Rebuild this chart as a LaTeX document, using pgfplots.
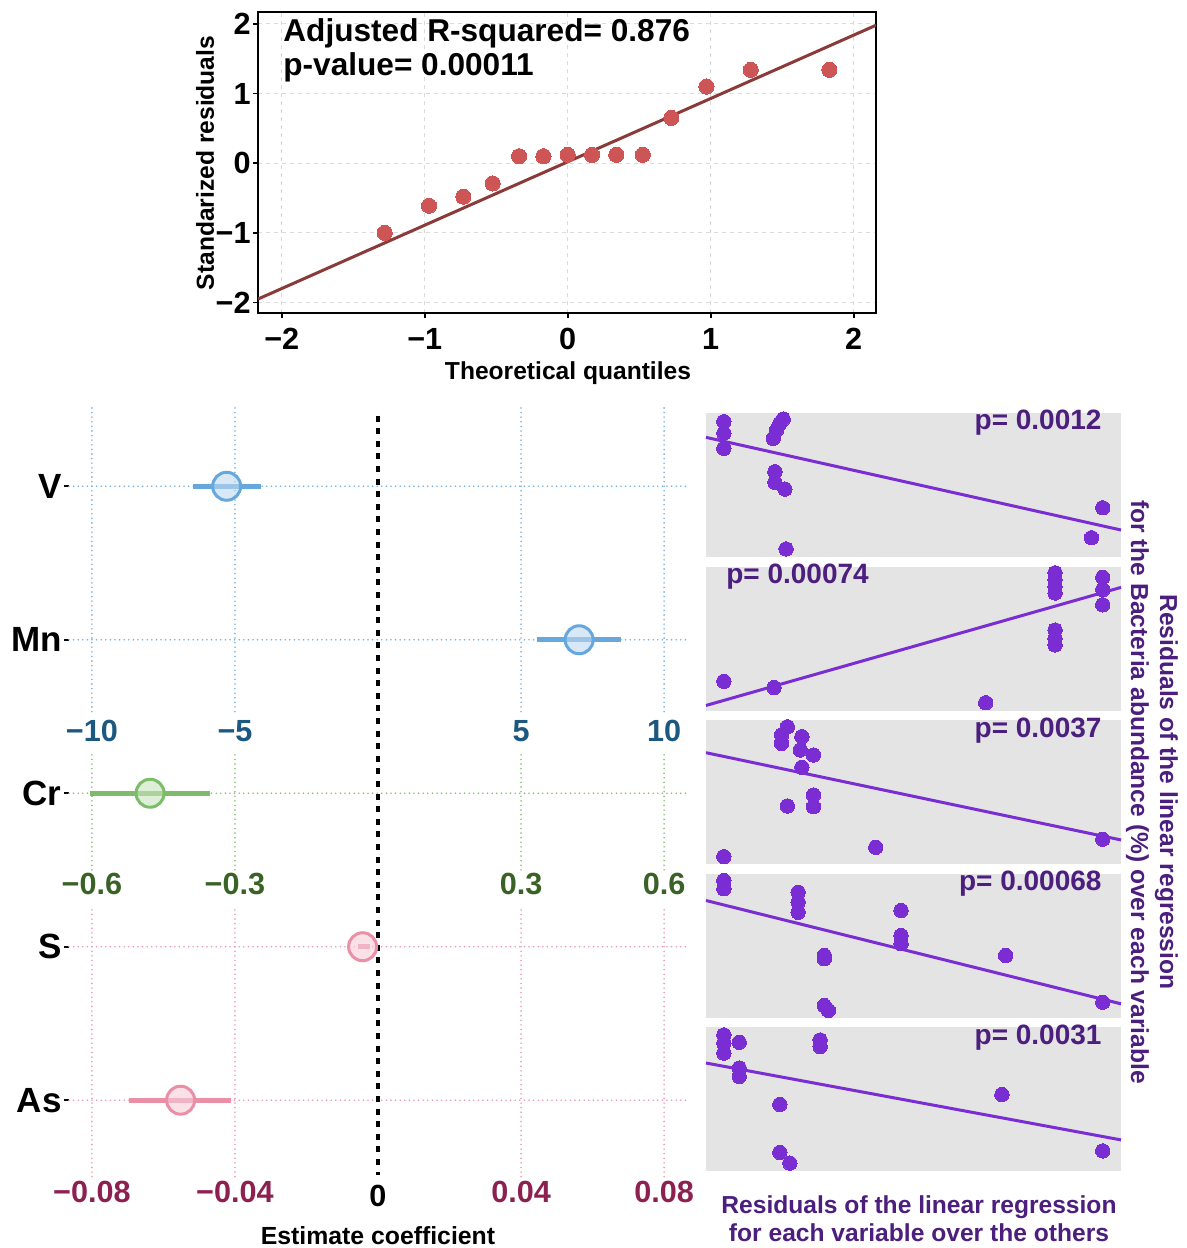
\documentclass[border=0pt]{standalone}
\usepackage{fontspec}
\setmainfont{Liberation Sans}
\usepackage{pgfplots}
\usepackage{pgfplotstable}
\pgfplotsset{compat=1.18}

\definecolor{qqpt}{RGB}{205,85,85}
\definecolor{qqline}{RGB}{139,58,58}
\definecolor{gridgray}{RGB}{218,218,218}
\definecolor{bluestroke}{RGB}{102,167,222}
\definecolor{bluefill}{RGB}{190,217,240}
\definecolor{bluedot}{RGB}{120,178,222}
\definecolor{bluetxt}{RGB}{28,88,128}
\definecolor{greenstroke}{RGB}{125,188,105}
\definecolor{greenfill}{RGB}{200,228,190}
\definecolor{greendot}{RGB}{135,192,115}
\definecolor{greentxt}{RGB}{58,98,38}
\definecolor{pinkstroke}{RGB}{234,143,166}
\definecolor{pinkfill}{RGB}{246,205,216}
\definecolor{pinkdot}{RGB}{236,155,176}
\definecolor{pinktxt}{RGB}{140,32,80}
\definecolor{purpt}{RGB}{121,45,210}
\definecolor{purtxt}{RGB}{76,30,126}
\definecolor{panelbg}{RGB}{228,228,228}

\newcommand{\fs}[2]{\fontsize{#1}{#2}\selectfont\bfseries}

% QQ plot of the standardized residuals
\pgfplotstableread{
x y
-1.28 -1.00
-0.97 -0.61
-0.73 -0.48
-0.525 -0.29
-0.34 0.10
-0.17 0.10
0.00 0.12
0.17 0.12
0.34 0.12
0.525 0.12
0.725 0.65
0.97 1.10
1.28 1.34
1.83 1.34
}\qqdata

% coefficient estimates (row 5 = V ... row 1 = As)
\pgfplotstableread{
row est lo hi
5 -5.29 -6.47 -4.08
4 7.03 5.56 8.48
}\coefblue
\pgfplotstableread{
row est lo hi
3 -0.478 -0.605 -0.353
}\coefgreen
\pgfplotstableread{
row est lo hi
2 -0.0043 -0.0056 -0.0022
1 -0.0552 -0.0695 -0.041
}\coefpink

% partial residual panels (normalised to the panel)
\pgfplotstableread{
x y
0.043 0.940
0.043 0.860
0.043 0.755
0.186 0.958
0.178 0.928
0.170 0.882
0.162 0.824
0.166 0.592
0.166 0.519
0.190 0.472
0.193 0.056
0.956 0.342
0.929 0.134
}\resV
\pgfplotstableread{
x y
0.043 0.203
0.164 0.159
0.674 0.054
0.841 0.956
0.841 0.909
0.841 0.862
0.841 0.816
0.841 0.559
0.841 0.501
0.841 0.455
0.956 0.925
0.956 0.839
0.956 0.734
}\resMn
\pgfplotstableread{
x y
0.196 0.953
0.182 0.896
0.182 0.838
0.231 0.884
0.227 0.792
0.259 0.757
0.231 0.672
0.259 0.479
0.259 0.398
0.196 0.403
0.409 0.116
0.043 0.051
0.956 0.172
}\resCr
\pgfplotstableread{
x y
0.043 0.951
0.043 0.894
0.222 0.870
0.222 0.801
0.222 0.731
0.470 0.743
0.470 0.569
0.470 0.512
0.285 0.431
0.285 0.408
0.722 0.431
0.285 0.083
0.295 0.049
0.956 0.106
}\resS
\pgfplotstableread{
x y
0.043 0.945
0.043 0.888
0.043 0.819
0.080 0.894
0.080 0.715
0.080 0.657
0.275 0.910
0.275 0.864
0.178 0.462
0.178 0.129
0.202 0.055
0.713 0.531
0.956 0.140
}\resAs

\pgfplotsset{
  panel/.style={scale only axis, width=207.5pt, height=72pt, anchor=north west,
    xmin=0, xmax=1, ymin=0, ymax=1, axis line style={draw=none}, ticks=none,
    axis background/.style={fill=panelbg}, clip=false},
  respts/.style={only marks, mark=*, mark size=3.6pt,
    mark options={draw=purpt, fill=purpt, line width=0pt}},
  resline/.style={purpt, line width=1.5pt},
}
\tikzset{
  ptext/.style={text=purtxt, font=\fs{14}{16}, inner sep=0pt},
  guide/.style={line width=0.9pt, line cap=round, dash pattern=on 0pt off 2.3pt},
}

\begin{document}
\begin{tikzpicture}
\path[use as bounding box] (0,0) rectangle (593.5pt,-624pt);

% ---------- QQ plot ----------
\begin{axis}[
  scale only axis, width=309pt, height=150.5pt,
  at={(129pt,-6pt)}, anchor=north west,
  xmin=-2.166, xmax=2.156, ymin=-2.15, ymax=2.17,
  xtick={-2,-1,0,1,2}, xticklabels={−2,−1,0,1,2},
  ytick={-2,-1,0,1,2}, yticklabels={−2,−1,0,1,2},
  xtick pos=bottom, ytick pos=left, tick align=outside,
  major tick length=2.5pt,
  tick style={black, line width=0.9pt},
  axis line style={line width=1.4pt},
  ticklabel style={font=\fs{15.3}{18}},
  xticklabel style={inner sep=1pt, yshift=-4pt},
  yticklabel style={inner sep=1pt},
  grid=major,
  major grid style={gridgray, line width=0.5pt, dash pattern=on 2pt off 2pt},
]
\addplot[qqline, line width=1.5pt] coordinates {(-2.166,-1.95) (2.156,1.98)};
\addplot[only marks, mark=*, mark size=3.8pt, mark options={draw=qqpt, fill=qqpt, line width=0pt}] table {\qqdata};
\end{axis}
\node[anchor=base west, inner sep=0pt, font=\fs{15.8}{18}] at (141.5pt,-20.8pt) {Adjusted R-squared= 0.876};
\node[anchor=base west, inner sep=0pt, font=\fs{15.8}{18}] at (141.5pt,-37.5pt) {p-value= 0.00011};
\node[font=\fs{12.3}{15}] at (284pt,-186.5pt) {Theoretical quantiles};
\node[font=\fs{12.3}{15}, rotate=90] at (102.5pt,-81.5pt) {Standarized residuals};

% ---------- coefficient plot ----------
\begin{axis}[
  scale only axis, width=309pt, height=386pt,
  at={(34.5pt,-204pt)}, anchor=north west,
  xmin=-10.8, xmax=10.8, ymin=0.48, ymax=5.51,
  xtick=\empty,
  ytick={1,2,3,4,5}, yticklabels={As,S,Cr,Mn,V},
  ytick pos=left, tick align=outside, major tick length=2.5pt,
  tick style={black, line width=1pt},
  axis line style={draw=none},
  yticklabel style={font=\fs{17.5}{20}, inner sep=1pt},
  clip=false,
]
% guide lines
\addplot[bluedot, guide] coordinates {(-10.8,5) (10.8,5)};
\addplot[bluedot, guide] coordinates {(-10.8,4) (10.8,4)};
\addplot[greendot, guide] coordinates {(-10.8,3) (10.8,3)};
\addplot[pinkdot, guide] coordinates {(-10.8,2) (10.8,2)};
\addplot[pinkdot, guide] coordinates {(-10.8,1) (10.8,1)};
\pgfplotsinvokeforeach{-10,-5,5,10}{
  \addplot[bluedot, guide] coordinates {(#1,5.51) (#1,3.52)};
  \addplot[greendot, guide] coordinates {(#1,3.25) (#1,2.50)};
  \addplot[pinkdot, guide] coordinates {(#1,2.24) (#1,0.48)};
}
\addplot[black, line width=1.6pt, dash pattern=on 3pt off 3.3pt] coordinates {(0,5.46) (0,0.51)};
% intervals
\addplot[draw=none, error bars/.cd, x dir=both, x explicit, error mark=none,
  error bar style={bluestroke, line width=2.6pt}]
  table[x=est, y=row, x error plus expr=\thisrow{hi}-\thisrow{est}, x error minus expr=\thisrow{est}-\thisrow{lo}] {\coefblue};
\addplot[draw=none, error bars/.cd, x dir=both, x explicit, error mark=none,
  error bar style={greenstroke, line width=2.6pt}]
  table[x expr=\thisrow{est}/0.06, y=row, x error plus expr=(\thisrow{hi}-\thisrow{est})/0.06, x error minus expr=(\thisrow{est}-\thisrow{lo})/0.06] {\coefgreen};
\addplot[draw=none, error bars/.cd, x dir=both, x explicit, error mark=none,
  error bar style={pinkstroke, line width=2.6pt}]
  table[x expr=\thisrow{est}/0.008, y=row, x error plus expr=(\thisrow{hi}-\thisrow{est})/0.008, x error minus expr=(\thisrow{est}-\thisrow{lo})/0.008] {\coefpink};
% estimates
\addplot[only marks, mark=*, mark size=7pt, mark options={draw=bluestroke, fill=bluefill, fill opacity=0.6, line width=1.5pt}]
  table[x=est, y=row] {\coefblue};
\addplot[only marks, mark=*, mark size=7pt, mark options={draw=greenstroke, fill=greenfill, fill opacity=0.6, line width=1.5pt}]
  table[x expr=\thisrow{est}/0.06, y=row] {\coefgreen};
\addplot[only marks, mark=*, mark size=7pt, mark options={draw=pinkstroke, fill=pinkfill, fill opacity=0.6, line width=1.5pt}]
  table[x expr=\thisrow{est}/0.008, y=row] {\coefpink};
% scale labels
\node[text=bluetxt, font=\fs{15.3}{18}] at (axis cs:-10,3.404) {−10};
\node[text=bluetxt, font=\fs{15.3}{18}] at (axis cs:-5,3.404) {−5};
\node[text=bluetxt, font=\fs{15.3}{18}] at (axis cs:5,3.404) {5};
\node[text=bluetxt, font=\fs{15.3}{18}] at (axis cs:10,3.404) {10};
\node[text=greentxt, font=\fs{15.3}{18}] at (axis cs:-10,2.407) {−0.6};
\node[text=greentxt, font=\fs{15.3}{18}] at (axis cs:-5,2.407) {−0.3};
\node[text=greentxt, font=\fs{15.3}{18}] at (axis cs:5,2.407) {0.3};
\node[text=greentxt, font=\fs{15.3}{18}] at (axis cs:10,2.407) {0.6};
\node[text=pinktxt, font=\fs{15.3}{18}] at (axis cs:-10,0.4) {−0.08};
\node[text=pinktxt, font=\fs{15.3}{18}] at (axis cs:-5,0.4) {−0.04};
\node[text=pinktxt, font=\fs{15.3}{18}] at (axis cs:5,0.4) {0.04};
\node[text=pinktxt, font=\fs{15.3}{18}] at (axis cs:10,0.4) {0.08};
\node[font=\fs{15.3}{18}] at (axis cs:0,0.374) {0};
\end{axis}
\node[font=\fs{12.4}{15}] at (189pt,-618pt) {Estimate coefficient};

% ---------- residual panels ----------
\begin{axis}[panel, at={(353pt,-206.5pt)}]
\addplot[resline] coordinates {(0,0.831) (1,0.1875)};
\addplot[respts] table {\resV};
\node[ptext, anchor=base east] at (rel axis cs:0.954,0.882) {p= 0.0012};
\end{axis}
\begin{axis}[panel, at={(353pt,-283.25pt)}]
\addplot[resline] coordinates {(0,0.035) (1,0.855)};
\addplot[respts] table {\resMn};
\node[ptext, anchor=base west] at (rel axis cs:0.048,0.882) {p= 0.00074};
\end{axis}
\begin{axis}[panel, at={(353pt,-360pt)}]
\addplot[resline] coordinates {(0,0.773) (1,0.167)};
\addplot[respts] table {\resCr};
\node[ptext, anchor=base east] at (rel axis cs:0.954,0.882) {p= 0.0037};
\end{axis}
\begin{axis}[panel, at={(353pt,-436.75pt)}]
\addplot[resline] coordinates {(0,0.8125) (1,0.095)};
\addplot[respts] table {\resS};
\node[ptext, anchor=base east] at (rel axis cs:0.954,0.882) {p= 0.00068};
\end{axis}
\begin{axis}[panel, at={(353pt,-513.5pt)}]
\addplot[resline] coordinates {(0,0.75) (1,0.216)};
\addplot[respts] table {\resAs};
\node[ptext, anchor=base east] at (rel axis cs:0.954,0.882) {p= 0.0031};
\end{axis}

\node[text=purtxt, font=\fs{12.3}{14.5}, align=center, rotate=-90] at (576pt,-396pt)
  {Residuals of the linear regression\\for the Bacteria abundance (\%) over each variable};
\node[text=purtxt, font=\fs{12.3}{14}, align=center] at (459.5pt,-609.5pt)
  {Residuals of the linear regression\\for each variable over the others};
\end{tikzpicture}
\end{document}
